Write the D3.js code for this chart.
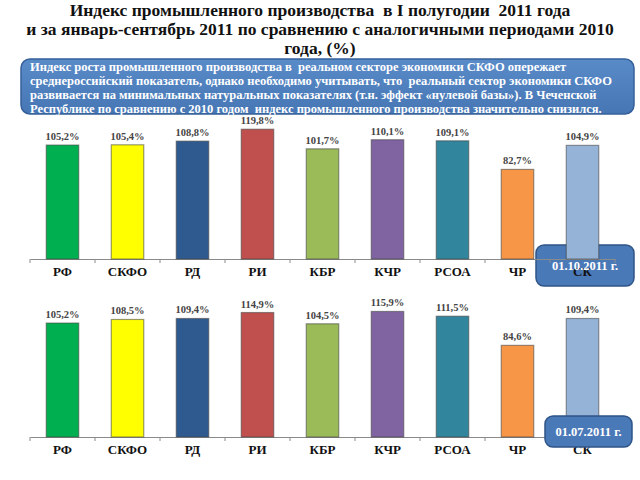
<!DOCTYPE html>
<html>
<head>
<meta charset="utf-8">
<script src="https://cdn.jsdelivr.net/npm/d3@7"></script>
<style>
  html, body { margin: 0; padding: 0; background: #fff; }
  svg { display: block; }
  svg text { font-family: "Liberation Serif", "DejaVu Serif", serif; font-weight: bold; }
</style>
</head>
<body>
<script>
const categories = ["РФ", "СКФО", "РД", "РИ", "КБР", "КЧР", "РСОА", "ЧР", "СК"];
const valuesSep = [105.2, 105.4, 108.8, 119.8, 101.7, 110.1, 109.1, 82.7, 104.9];
const valuesJun = [105.2, 108.5, 109.4, 114.9, 104.5, 115.9, 111.5, 84.6, 109.4];
const barColors = ["#00b050", "#ffff00", "#2f5a8f", "#c0504d", "#9bbb59", "#8064a2", "#31859c", "#f79646", "#95b3d7"];
const titleLines = [
  "Индекс промышленного производства  в I полугодии  2011 года",
  "и за январь-сентябрь 2011 по сравнению с аналогичными периодами 2010",
  "года, (%)"
];
const noteLines = [
  "Индекс роста промышленного производства в  реальном секторе экономики СКФО опережает",
  "среднероссийский показатель, однако необходимо учитывать, что  реальный сектор экономики СКФО",
  "развивается на минимальных натуральных показателях (т.н. эффект «нулевой базы»). В Чеченской",
  "Республике по сравнению с 2010 годом  индекс промышленного производства значительно снизился."
];
const dateLabels = ["01.10.2011 г.", "01.07.2011 г."];

const W = 640, H = 480;
const svg = d3.select("body").append("svg").attr("width", W).attr("height", H);

// Title
svg.append("g").selectAll("text").data(titleLines).join("text")
  .attr("x", 320).attr("y", (d, i) => 15.5 + i * 19)
  .attr("text-anchor", "middle")
  .style("font-size", "17.5px").style("white-space", "pre")
  .attr("fill", "#111").text(d => d);

// Note box
const defs = svg.append("defs");
const grad = defs.append("linearGradient").attr("id", "boxg").attr("x1", 0).attr("y1", 0).attr("x2", 0).attr("y2", 1);
grad.append("stop").attr("offset", "0%").attr("stop-color", "#5a8bc9");
grad.append("stop").attr("offset", "100%").attr("stop-color", "#4676b4");
svg.append("rect").attr("x", 21).attr("y", 59).attr("width", 613).attr("height", 55)
  .attr("rx", 9).attr("fill", "url(#boxg)").attr("stroke", "#36609a").attr("stroke-width", 1.5);
svg.append("g").selectAll("text").data(noteLines).join("text")
  .attr("x", 30).attr("y", (d, i) => 71 + i * 14)
  .style("font-size", "12.5px").style("white-space", "pre")
  .attr("fill", "#fff").text(d => d);

const x = d3.scaleBand().domain(categories).range([30, 615]).paddingInner(0.5).paddingOuter(0.25);
const fmt = v => v.toFixed(1).replace(".", ",") + "%";

function dateBox(g, b) {
  g.append("rect").attr("x", b[0]).attr("y", b[1]).attr("width", b[2]).attr("height", b[3])
    .attr("rx", 8).attr("fill", "#4a79b7").attr("stroke", "#2f5488").attr("stroke-width", 1.5);
}

function panel(values, axisY, dateIdx, box, boxBehind) {
  const g = svg.append("g");
  const y = d3.scaleLinear().domain([0, 120]).range([axisY, axisY - 130]);
  if (boxBehind) dateBox(g, box);
  const ax = g.append("g").attr("transform", `translate(0,${axisY})`)
    .call(d3.axisBottom(x).tickSize(0).tickFormat(""));
  ax.select(".domain").attr("stroke", "#8a8a8a").attr("stroke-width", 1.2);
  const edges = d3.range(categories.length + 1).map(i => 30 + i * x.step());
  g.append("g").selectAll("line").data(edges).join("line")
    .attr("x1", d => d).attr("x2", d => d).attr("y1", axisY).attr("y2", axisY + 4)
    .attr("stroke", "#8a8a8a").attr("stroke-width", 1);
  g.append("g").selectAll("rect").data(values).join("rect")
    .attr("x", (d, i) => x(categories[i]))
    .attr("y", d => y(d))
    .attr("width", x.bandwidth())
    .attr("height", d => axisY - y(d))
    .attr("fill", (d, i) => barColors[i])
    .attr("stroke", "#444").attr("stroke-opacity", 0.55).attr("stroke-width", 1.2);
  g.append("g").selectAll("text").data(values).join("text")
    .attr("x", (d, i) => x(categories[i]) + x.bandwidth() / 2)
    .attr("y", d => y(d) - 5)
    .attr("text-anchor", "middle")
    .style("font-size", "10.5px")
    .attr("fill", "#444").text(d => fmt(d));
  g.append("g").selectAll("text").data(categories).join("text")
    .attr("x", d => x(d) + x.bandwidth() / 2)
    .attr("y", axisY + 17)
    .attr("text-anchor", "middle")
    .style("font-size", "13px")
    .attr("fill", "#111").text(d => d);
  if (!boxBehind) dateBox(g, box);
  g.append("text").attr("x", box[0] + box[2] / 2).attr("y", box[1] + box[3] / 2 + 4.5)
    .attr("text-anchor", "middle")
    .style("font-size", "12.5px")
    .attr("fill", "#fff").text(dateLabels[dateIdx]);
}

panel(valuesSep, 259, 0, [536, 245, 98, 41], true);
panel(valuesJun, 437, 1, [545, 416, 87, 31], false);
</script>
</body>
</html>
